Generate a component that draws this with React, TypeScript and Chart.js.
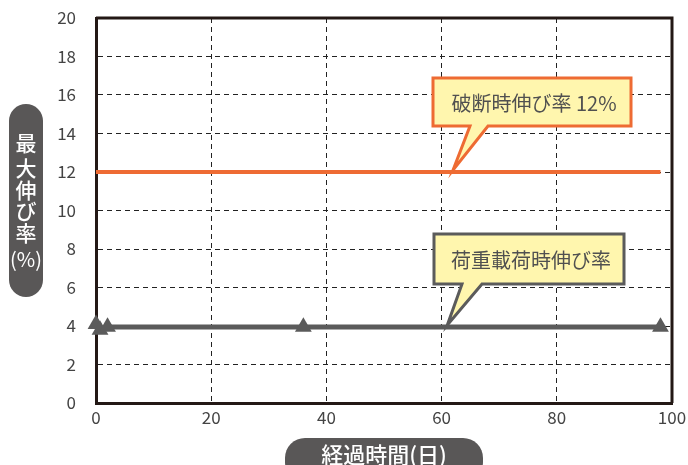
import React, { useEffect, useRef } from 'react';
import { Chart, registerables } from 'chart.js';

Chart.register(...registerables);

// ---- data ----
const elapsedDays = [0, 0.7, 2, 36, 98];
const loadElongation = [4.1, 3.8, 3.95, 3.95, 3.95];
const breakDays = [0, 98];
const breakElongation = [12, 12];
const xTickValues = [0, 20, 40, 60, 80, 100];
const yTickValues = [0, 2, 4, 6, 8, 10, 12, 14, 16, 18, 20];
const breakLabel = '破断時伸び率 12%';
const loadLabel = '荷重載荷時伸び率';
const yTitleChars = ['最', '大', '伸', 'び', '率', '(%)'];
const xTitle = '経過時間(日)';

const FONT = '"Noto Sans CJK JP", "Noto Sans", sans-serif';
const ORANGE = '#EE6B33';
const GRAY = '#5B5B5B';
const PILL = '#595757';
const AXIS = '#231815';

const decorPlugin = {
  id: 'decor',
  afterDatasetsDraw(chart: any) {
    const { ctx, chartArea, scales } = chart;
    const xs = scales.x;
    const ys = scales.y;
    ctx.save();
    // top & right border
    ctx.strokeStyle = AXIS;
    ctx.lineWidth = 3;
    ctx.beginPath();
    ctx.moveTo(chartArea.left, chartArea.top);
    ctx.lineTo(chartArea.right, chartArea.top);
    ctx.lineTo(chartArea.right, chartArea.bottom);
    ctx.stroke();

    const callouts = [
      { text: breakLabel, tipX: 62, tipY: 12, box: [433, 78, 631, 126], tail: [470, 488], color: ORANGE },
      { text: loadLabel, tipX: 61, tipY: 3.95, box: [434, 234, 624, 284], tail: [462, 482], color: GRAY },
    ];
    for (const c of callouts) {
      const px = xs.getPixelForValue(c.tipX);
      const py = ys.getPixelForValue(c.tipY) - 2;
      const [x0, y0, x1, y1] = c.box;
      ctx.beginPath();
      ctx.moveTo(x0, y0);
      ctx.lineTo(x1, y0);
      ctx.lineTo(x1, y1);
      ctx.lineTo(c.tail[1], y1);
      ctx.lineTo(px, py);
      ctx.lineTo(c.tail[0], y1);
      ctx.lineTo(x0, y1);
      ctx.closePath();
      ctx.fillStyle = '#FFF6AE';
      ctx.fill();
      ctx.lineWidth = 3;
      ctx.lineJoin = 'miter';
      ctx.strokeStyle = c.color;
      ctx.stroke();
      ctx.fillStyle = '#505050';
      ctx.font = `20px ${FONT}`;
      ctx.textAlign = 'center';
      ctx.textBaseline = 'middle';
      ctx.fillText(c.text, (x0 + x1) / 2 + 2, (y0 + y1) / 2 + 1);
    }

    // y title pill
    ctx.fillStyle = PILL;
    ctx.beginPath();
    (ctx as any).roundRect(9, 104, 34, 193, 17);
    ctx.fill();
    ctx.fillStyle = '#ffffff';
    ctx.textAlign = 'center';
    ctx.textBaseline = 'middle';
    const ys2 = [143, 168, 190, 211, 233, 259];
    yTitleChars.forEach((ch, i) => {
      ctx.font = i === yTitleChars.length - 1 ? `20px ${FONT}` : `500 21px ${FONT}`;
      ctx.fillText(ch, 26, ys2[i]);
    });

    // x title pill
    ctx.fillStyle = PILL;
    ctx.beginPath();
    (ctx as any).roundRect(285, 438, 198, 44, 20);
    ctx.fill();
    ctx.fillStyle = '#ffffff';
    ctx.font = `500 22px ${FONT}`;
    ctx.fillText(xTitle, 384, 455);
    ctx.restore();
  },
};

export default function App() {
  const ref = useRef<HTMLCanvasElement>(null);
  useEffect(() => {
    if (!ref.current) return;
    const chart = new Chart(ref.current, {
      type: 'scatter',
      data: {
        datasets: [
          {
            label: breakLabel,
            data: breakDays.map((x, i) => ({ x, y: breakElongation[i] })),
            showLine: true,
            borderColor: ORANGE,
            borderWidth: 4,
            pointRadius: 0,
            order: 2,
          },
          {
            label: loadLabel,
            data: elapsedDays.map((x, i) => ({ x, y: loadElongation[i] })),
            showLine: true,
            borderColor: GRAY,
            backgroundColor: GRAY,
            borderWidth: 5,
            pointStyle: 'triangle',
            pointRadius: 9.7,
            pointBorderWidth: 0,
            clip: false,
            order: 1,
          },
        ],
      },
      options: {
        responsive: false,
        animation: false,
        events: [],
        layout: { padding: { left: 0, top: 18, right: 16, bottom: 0 } },
        plugins: { legend: { display: false }, tooltip: { enabled: false } },
        scales: {
          x: {
            type: 'linear',
            min: 0,
            max: 100,
            afterBuildTicks: (s: any) => { s.ticks = xTickValues.map((v) => ({ value: v })); },
            afterFit: (s: any) => { s.height = 62; s.paddingLeft = 0; s.paddingRight = 0; },
            ticks: { color: '#444', font: { family: FONT, size: 17 }, padding: 4, maxRotation: 0 },
            grid: {
              drawTicks: false,
              color: (c: any) => (c.tick && (c.tick.value === 0 || c.tick.value === 100) ? 'rgba(0,0,0,0)' : '#222'),
              lineWidth: 1,
            },
            border: { display: true, color: AXIS, width: 3, dash: [5, 4] },
          },
          y: {
            type: 'linear',
            min: 0,
            max: 20,
            afterBuildTicks: (s: any) => { s.ticks = yTickValues.map((v) => ({ value: v })); },
            afterFit: (s: any) => { s.width = 96; s.paddingTop = 0; s.paddingBottom = 0; },
            ticks: { color: '#444', font: { family: FONT, size: 17 }, padding: 20 },
            grid: {
              drawTicks: false,
              color: (c: any) => (c.tick && (c.tick.value === 0 || c.tick.value === 20) ? 'rgba(0,0,0,0)' : '#222'),
              lineWidth: 1,
            },
            border: { display: true, color: AXIS, width: 3, dash: [5, 4] },
          },
        },
      },
      plugins: [decorPlugin],
    });
    return () => chart.destroy();
  }, []);
  return (
    <div style={{ position: 'fixed', left: 0, top: 0, width: 688, height: 465, background: '#fff' }}>
      <canvas ref={ref} width={688} height={465} />
    </div>
  );
}
